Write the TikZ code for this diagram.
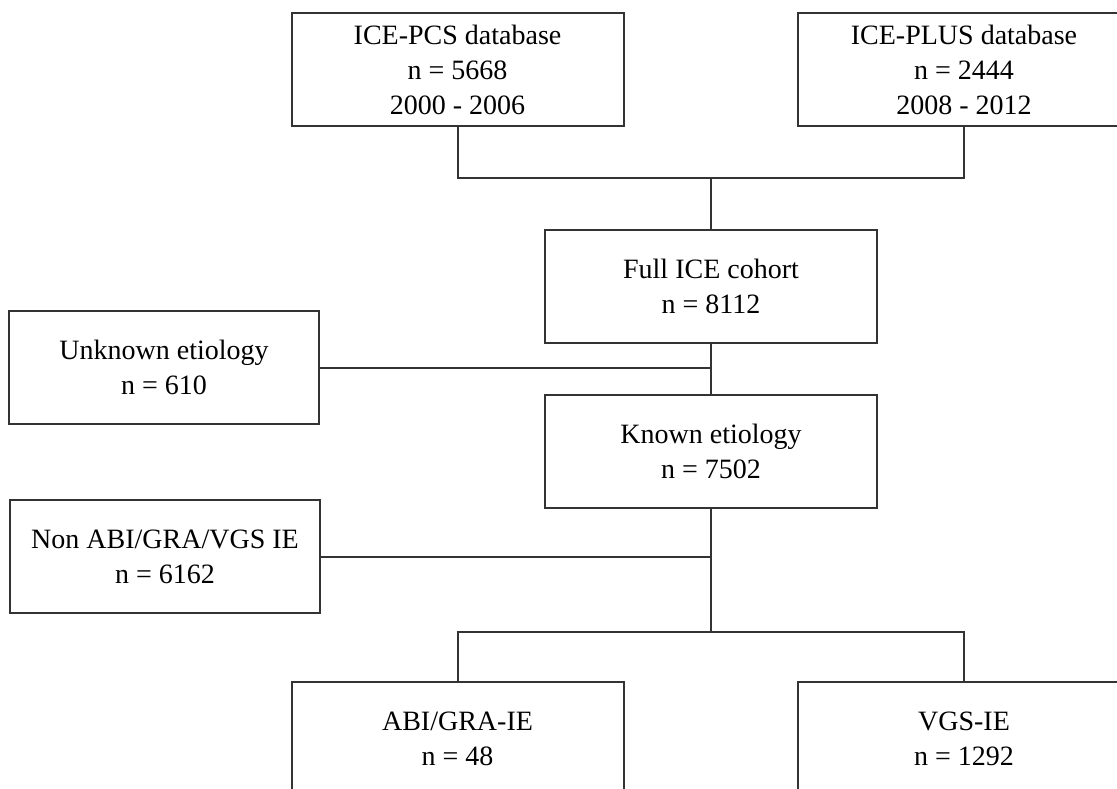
\documentclass[tikz,border=0pt]{standalone}
\usepackage{fontspec}
\setmainfont{Liberation Serif}
\tikzset{
  flowbox/.style={draw, line width=2pt, inner sep=0pt, align=center,
    minimum width=332pt, minimum height=113pt,
    font=\fontsize{28}{35}\selectfont},
  sidebox/.style={flowbox, minimum width=310pt},
  link/.style={line width=2pt}
}
\begin{document}
\begin{tikzpicture}[x=1pt,y=-1pt,draw=black!80]
\useasboundingbox (0,0) rectangle (1117,789);
\clip (0,0) rectangle (1117,789);
\node (pcs) [flowbox] at (457.5,69.5) {ICE-PCS database\\ n = 5668\\ 2000 - 2006};
\node (plus) [flowbox] at (964,69.5) {ICE-PLUS database\\ n = 2444\\ 2008 - 2012};
\node (full) [flowbox] at (711,286) {Full ICE cohort\\ n = 8112};
\node (unknown) [sidebox] at (164,367.5) {Unknown etiology\\ n = 610};
\node (known) [flowbox] at (711,451) {Known etiology\\ n = 7502};
\node (nonabi) [sidebox] at (165,556.5) {Non ABI/GRA/VGS IE\\ n = 6162};
\node (abi) [flowbox] at (457.5,738.5) {ABI/GRA-IE\\ n = 48};
\node (vgs) [flowbox] at (964,738.5) {VGS-IE\\ n = 1292};
\coordinate (merge) at (711,178);
\coordinate (split) at (711,632);
\draw [link] (pcs.south) |- (merge) -| (plus.south);
\draw [link] (merge) -- (full.north);
\draw [link] (full.south) -- (known.north);
\draw [link] (unknown.east) -- (unknown.east -| full.south);
\draw [link] (nonabi.east) -- (nonabi.east -| known.south);
\draw [link] (known.south) -- (split);
\draw [link] (abi.north) |- (split) -| (vgs.north);
\end{tikzpicture}
\end{document}
